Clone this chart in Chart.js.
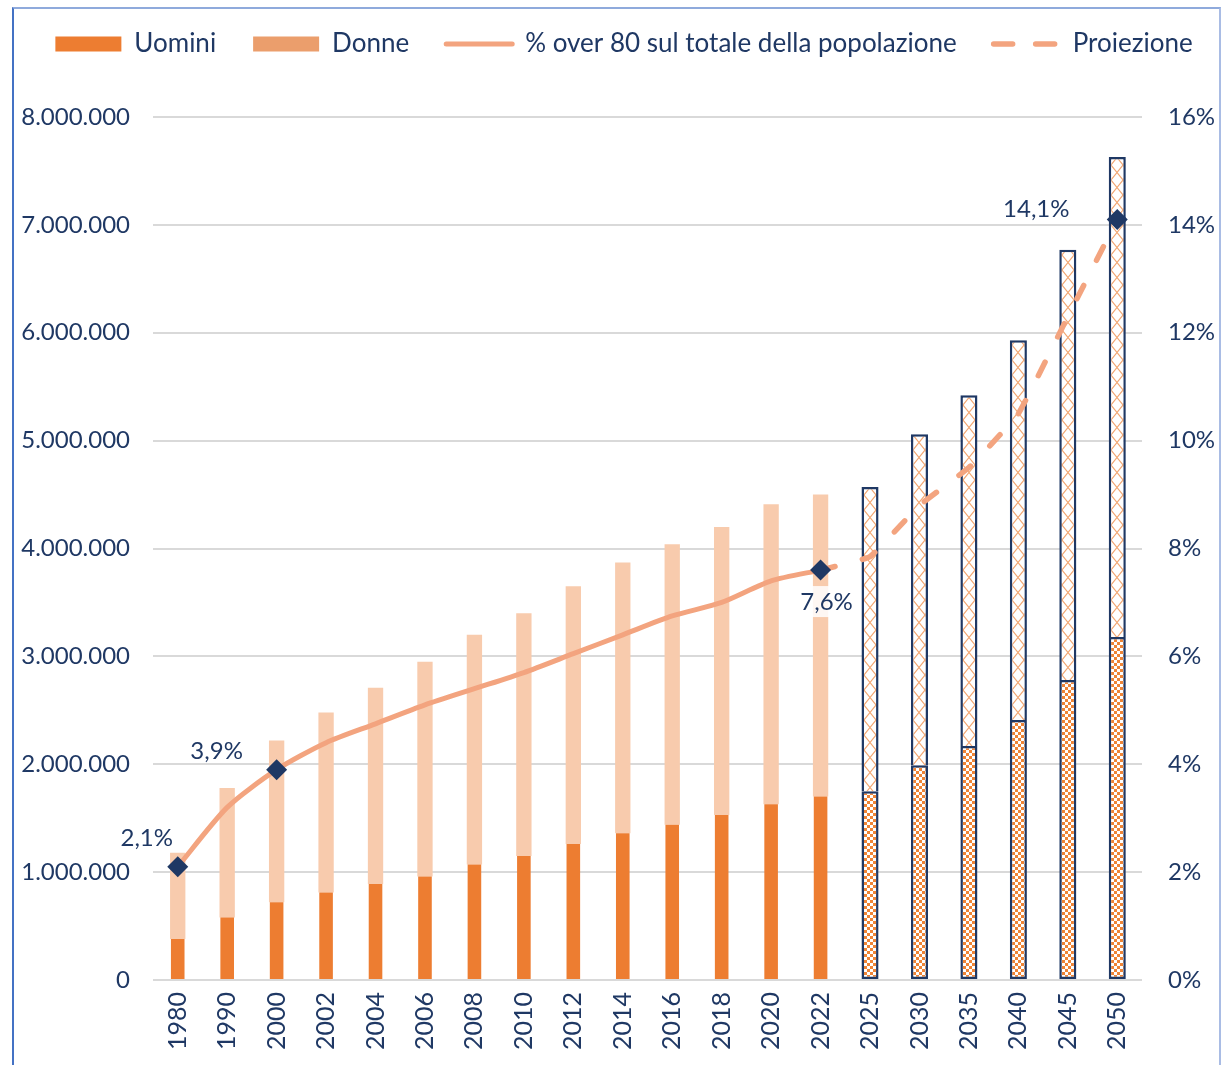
<!DOCTYPE html>
<html>
<head>
<meta charset="utf-8">
<script src="https://cdn.jsdelivr.net/npm/chart.js@4.4.1/dist/chart.umd.min.js"></script>
<style>
html,body{margin:0;padding:0;background:#ffffff;}
#wrap{position:relative;width:1222px;height:1065px;overflow:hidden;}
#frame{position:absolute;left:12px;top:7px;width:1205px;height:1100px;border-left:2px solid #4472C4;border-top:2px solid #8FAADC;border-right:2px solid #A9BCE4;pointer-events:none;}
canvas{position:absolute;left:0;top:0;}
</style>
</head>
<body>
<div id="wrap"><canvas id="c" width="1222" height="1065"></canvas><div id="frame"></div></div>
<script>
// ---- Data ----
const anni = ['1980','1990','2000','2002','2004','2006','2008','2010','2012','2014','2016','2018','2020','2022','2025','2030','2035','2040','2045','2050'];
const uomini = [380000, 580000, 720000, 810000, 890000, 960000, 1070000, 1150000, 1260000, 1360000, 1440000, 1530000, 1630000, 1700000, 1750000, 1990000, 2170000, 2410000, 2780000, 3180000];
const donne  = [800000, 1200000, 1500000, 1670000, 1820000, 1990000, 2130000, 2250000, 2390000, 2510000, 2600000, 2670000, 2780000, 2800000, 2820000, 3070000, 3250000, 3520000, 3990000, 4450000];
const quotaOver80 = [2.1, 3.2, 3.9, 4.4, 4.75, 5.1, 5.4, 5.7, 6.05, 6.4, 6.75, 7.0, 7.4, 7.6, null, null, null, null, null, null];
const proiezione  = [null, null, null, null, null, null, null, null, null, null, null, null, null, 7.6, 7.85, 8.8, 9.5, 10.5, 12.3, 14.1];
const primaProiezione = 14;            // index of 2025: first projected year
const puntiEvidenziati = [0, 2, 13];   // diamonds on the observed line
const puntiProiezione = [19];          // diamond on the projection line
const legendaTesti = ['Uomini', 'Donne', '% over 80 sul totale della popolazione', 'Proiezione'];

// ---- Styles ----
const NAVY = '#1F3864';
const ORANGE = '#ED7D31';
const PEACH = '#F8CBAD';
const LEGEND_PEACH = '#EB9E6C';
const LINE = '#F3A47F';
Chart.defaults.font.family = 'Lato';
Chart.defaults.color = NAVY;

function checkerTile(){
  const c = document.createElement('canvas'); c.width = 6; c.height = 6;
  const g = c.getContext('2d');
  g.fillStyle = '#ffffff'; g.fillRect(0,0,6,6);
  g.fillStyle = '#EF8436'; g.fillRect(0,0,3,3); g.fillRect(3,3,3,3);
  return c;
}
function latticeTile(){
  const c = document.createElement('canvas'); c.width = 12; c.height = 15;
  const g = c.getContext('2d');
  g.fillStyle = '#ffffff'; g.fillRect(0,0,12,15);
  g.strokeStyle = '#F2A773'; g.lineWidth = 1.1;
  g.beginPath(); g.moveTo(0,0); g.lineTo(12,15); g.moveTo(12,0); g.lineTo(0,15); g.stroke();
  return c;
}
const CHECK = checkerTile();
const LATTICE = latticeTile();
function patternFor(tile){
  return (ctx) => {
    const chart = ctx.chart;
    const p = chart.ctx.createPattern(tile, 'repeat');
    const xs = chart.scales && chart.scales.x;
    if (xs && ctx.dataIndex !== undefined && p.setTransform) {
      const x = xs.getPixelForValue(ctx.dataIndex);
      p.setTransform(new DOMMatrix([1,0,0,1,Math.round(x) - 6,0]));
    }
    return p;
  };
}

const storico = (arr) => arr.map((v,i) => i < primaProiezione ? v : null);
const futuro  = (arr) => arr.map((v,i) => i >= primaProiezione ? v : null);
const raggi = (idx, n) => Array.from({length: n}, (_, i) => idx.includes(i) ? 10.5 : 0);

const labelPlugin = {
  id: 'etichette',
  afterDatasetsDraw(chart, args, opts){
    const ctx = chart.ctx;
    ctx.save();
    ctx.font = '24px Lato';
    ctx.textAlign = 'center';
    ctx.textBaseline = 'middle';
    opts.items.forEach(it => {
      const el = chart.getDatasetMeta(it.dataset).data[it.index];
      const val = chart.data.datasets[it.dataset].data[it.index];
      const text = val.toFixed(1).replace('.', ',') + '%';
      const x = el.x + it.dx, y = el.y + it.dy;
      if (it.bg) {
        const w = ctx.measureText(text).width + 16;
        ctx.fillStyle = 'rgba(255,255,255,0.85)';
        ctx.fillRect(x - w/2, y - 16, w, 31);
      }
      ctx.fillStyle = NAVY;
      ctx.fillText(text, x, y);
    });
    ctx.restore();
  }
};

new Chart(document.getElementById('c'), {
  type: 'bar',
  data: {
    labels: anni,
    datasets: [
      { type: 'line', label: legendaTesti[2], data: quotaOver80, yAxisID: 'y1', order: 0,
        borderColor: LINE, borderWidth: 5, tension: 0.25, borderCapStyle: 'round',
        pointStyle: 'rectRot', pointRadius: raggi(puntiEvidenziati, anni.length),
        pointBackgroundColor: NAVY, pointBorderColor: NAVY, pointBorderWidth: 0, pointHoverRadius: 0 },
      { type: 'line', label: legendaTesti[3], data: proiezione, yAxisID: 'y1', order: 0,
        borderColor: LINE, borderWidth: 5.5, tension: 0.1, borderDash: [15, 28], borderCapStyle: 'round',
        pointStyle: 'rectRot', pointRadius: raggi(puntiProiezione, anni.length),
        pointBackgroundColor: NAVY, pointBorderColor: NAVY, pointBorderWidth: 0, pointHoverRadius: 0 },
      { label: legendaTesti[0], data: storico(uomini), backgroundColor: ORANGE, order: 1,
        barPercentage: 0.275, categoryPercentage: 1, borderWidth: 0, yAxisID: 'y' },
      { label: legendaTesti[1], data: storico(donne), backgroundColor: PEACH, order: 1,
        barPercentage: 0.31, categoryPercentage: 1, borderWidth: 0, yAxisID: 'y' },
      { label: legendaTesti[0] + ' (proiezione)', data: futuro(uomini), backgroundColor: patternFor(CHECK), order: 1,
        barPercentage: 0.345, categoryPercentage: 1, borderWidth: 2.5, borderColor: NAVY, borderSkipped: false, yAxisID: 'y' },
      { label: legendaTesti[1] + ' (proiezione)', data: futuro(donne), backgroundColor: patternFor(LATTICE), order: 1,
        barPercentage: 0.345, categoryPercentage: 1, borderWidth: 2.5, borderColor: NAVY, borderSkipped: 'start', yAxisID: 'y' }
    ]
  },
  options: {
    responsive: false,
    animation: false,
    devicePixelRatio: 1,
    layout: { padding: { left: 0, right: -26, top: -6, bottom: 0 } },
    plugins: {
      tooltip: { enabled: false },
      title: { display: true, text: '', weight: 500, font: { size: 10 }, padding: { top: 0, bottom: 38 } },
      legend: {
        position: 'top',
        labels: {
          usePointStyle: true,
          pointStyleWidth: 66,
          boxHeight: 15,
          padding: 37,
          color: NAVY,
          font: { size: 26 },
          generateLabels: () => [
            { text: legendaTesti[0], fillStyle: ORANGE, strokeStyle: 'rgba(0,0,0,0)', lineWidth: 0, pointStyle: 'rect', fontColor: NAVY, hidden: false },
            { text: legendaTesti[1], fillStyle: LEGEND_PEACH, strokeStyle: 'rgba(0,0,0,0)', lineWidth: 0, pointStyle: 'rect', fontColor: NAVY, hidden: false },
            { text: legendaTesti[2], fillStyle: 'rgba(0,0,0,0)', strokeStyle: LINE, lineWidth: 5, lineCap: 'round', lineDash: [], pointStyle: 'line', fontColor: NAVY, hidden: false },
            { text: legendaTesti[3], fillStyle: 'rgba(0,0,0,0)', strokeStyle: LINE, lineWidth: 5.5, lineCap: 'round', lineDash: [19, 23], pointStyle: 'line', fontColor: NAVY, hidden: false }
          ]
        }
      },
      etichette: {
        items: [
          { dataset: 0, index: 0, dx: -31, dy: -28 },
          { dataset: 0, index: 2, dx: -60, dy: -18 },
          { dataset: 0, index: 13, dx: 6, dy: 32, bg: true },
          { dataset: 1, index: 19, dx: -81, dy: -10 }
        ]
      }
    },
    scales: {
      x: {
        stacked: true,
        grid: { display: false, drawTicks: false },
        border: { display: false },
        ticks: { color: NAVY, font: { size: 25 }, minRotation: 90, maxRotation: 90, padding: 12, autoSkip: false },
        afterFit: (s) => { s.height = 85; }
      },
      y: {
        stacked: true,
        position: 'left',
        min: 0, max: 8000000,
        grid: { color: '#D9D9D9', lineWidth: 2, drawTicks: false },
        border: { display: false },
        ticks: {
          stepSize: 1000000, color: NAVY, font: { size: 24 }, padding: 23,
          callback: (v) => v === 0 ? '0' : String(v).replace(/\B(?=(\d{3})+(?!\d))/g, '.')
        },
        afterFit: (s) => { s.width = 153; }
      },
      y1: {
        position: 'right',
        min: 0, max: 16,
        grid: { display: false, drawTicks: false },
        border: { display: false },
        ticks: { stepSize: 2, color: NAVY, font: { size: 24 }, padding: 26, callback: (v) => v + '%' },
        afterFit: (s) => { s.width = 106; }
      }
    }
  },
  plugins: [labelPlugin]
});
</script>
</body>
</html>
